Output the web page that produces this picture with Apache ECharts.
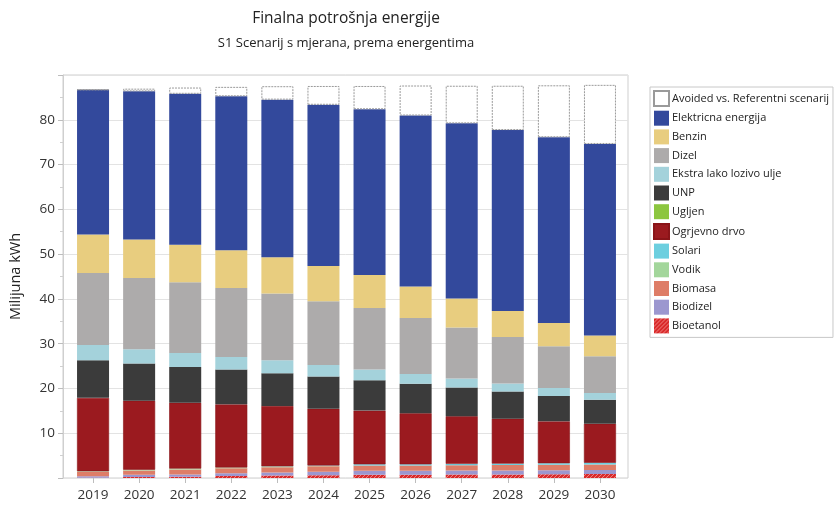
<!DOCTYPE html>
<html>
<head>
<meta charset="utf-8">
<script src="https://cdn.jsdelivr.net/npm/echarts@6/dist/echarts.min.js"></script>
<style>
  html, body { margin: 0; padding: 0; background: #fff; }
  #chart { width: 835px; height: 506px; }
</style>
</head>
<body>
<div id="chart"></div>
<script>
  // godine
  var years = ['2019', '2020', '2021', '2022', '2023', '2024', '2025', '2026', '2027', '2028', '2029', '2030'];

  // vrijednosti po energentu (Milijuna kWh)
  var bioetanol  = [0.05, 0.2, 0.3, 0.45, 0.55, 0.6, 0.7, 0.75, 0.8, 0.8, 0.85, 0.9];
  var biodizel   = [0.35, 0.5, 0.5, 0.6, 0.7, 0.8, 0.9, 0.85, 0.85, 0.9, 0.9, 0.9];
  var biomasa    = [1.0, 1.0, 1.1, 1.15, 1.15, 1.2, 1.2, 1.2, 1.2, 1.2, 1.2, 1.2];
  var vodik      = [0.1, 0.15, 0.2, 0.15, 0.15, 0.1, 0, 0, 0, 0, 0, 0];
  var solari     = [0, 0, 0, 0, 0.05, 0.1, 0.25, 0.25, 0.3, 0.3, 0.35, 0.4];
  var ogrjevno   = [16.4, 15.4, 14.7, 14.1, 13.5, 12.65, 12.0, 11.4, 10.65, 10.05, 9.35, 8.7];
  var ugljen     = [0, 0, 0, 0, 0, 0, 0, 0, 0, 0, 0, 0];
  var unp        = [8.4, 8.3, 8.0, 7.8, 7.3, 7.2, 6.8, 6.6, 6.4, 6.05, 5.65, 5.4];
  var ekstra     = [3.4, 3.2, 3.1, 2.8, 2.9, 2.6, 2.4, 2.2, 2.0, 1.8, 1.8, 1.5];
  var dizel      = [16.1, 15.9, 15.8, 15.4, 14.9, 14.2, 13.7, 12.5, 11.4, 10.4, 9.3, 8.2];
  var benzin     = [8.6, 8.6, 8.4, 8.4, 8.1, 7.9, 7.4, 7.0, 6.5, 5.8, 5.2, 4.6];
  var elektricna = [32.3, 33.1, 33.7, 34.4, 35.2, 36.0, 37.0, 38.2, 39.1, 40.4, 41.5, 42.8];
  var avoided    = [0, 0.6, 1.4, 2.1, 3.0, 4.2, 5.2, 6.7, 8.4, 9.9, 11.6, 13.2];

  var yMin = 0, yMax = 90, yStep = 10;

  // srafura za bioetanol
  function hatch() {
    var c = document.createElement('canvas');
    c.width = 4; c.height = 4;
    var g = c.getContext('2d');
    g.fillStyle = '#d92b2b';
    g.fillRect(0, 0, 4, 4);
    g.strokeStyle = '#f08080';
    g.lineWidth = 1;
    g.beginPath();
    g.moveTo(0, 4); g.lineTo(4, 0);
    g.stroke();
    return c;
  }

  function bar(name, data, color, extra) {
    var s = {
      name: name,
      type: 'bar',
      stack: 'ukupno',
      barWidth: 32,
      xAxisIndex: 1,
      yAxisIndex: 1,
      data: data,
      itemStyle: { color: color },
      emphasis: { disabled: true }
    };
    if (extra) s.itemStyle = Object.assign(s.itemStyle, extra);
    return s;
  }

  var series = [
    bar('Bioetanol', bioetanol, { image: hatch(), repeat: 'repeat' }),
    bar('Biodizel', biodizel, '#9c97cf'),
    bar('Biomasa', biomasa, '#de7d67'),
    bar('Vodik', vodik, '#a3d69b'),
    bar('Solari', solari, '#6ccfdf'),
    bar('Ogrjevno drvo', ogrjevno, '#9b1a1f', { borderColor: '#8a1418', borderWidth: 0.6 }),
    bar('Ugljen', ugljen, '#8cc63f'),
    bar('UNP', unp, '#3b3b3b'),
    bar('Ekstra lako lozivo ulje', ekstra, '#a4d2db'),
    bar('Dizel', dizel, '#adabab'),
    bar('Benzin', benzin, '#e8cd7f'),
    bar('Elektricna energija', elektricna, '#33499c'),
    bar('Avoided vs. Referentni scenarij', avoided, '#ffffff',
        { borderColor: '#9a9a9a', borderWidth: 1, borderType: [2, 1] })
  ];

  var legendNames = series.map(function (s) { return s.name; }).reverse();

  var chart = echarts.init(document.getElementById('chart'), null, { renderer: 'canvas' });
  chart.setOption({
    animation: false,
    textStyle: { fontFamily: 'Open Sans' },
    title: {
      text: 'Finalna potrošnja energije',
      subtext: 'S1 Scenarij s mjerana, prema energentima',
      left: 341,
      textAlign: 'center',
      top: 6,
      itemGap: 10,
      textStyle: { fontSize: 15.5, fontWeight: 'normal', color: '#222', fontFamily: 'Open Sans' },
      subtextStyle: { fontSize: 13, color: '#222', fontFamily: 'Open Sans' }
    },
    legend: {
      orient: 'vertical',
      left: 650,
      top: 87,
      data: legendNames,
      itemWidth: 15,
      itemHeight: 15,
      itemGap: 3.7,
      padding: [3, 4, 4, 3],
      borderColor: '#c8c8c8',
      borderWidth: 1,
      selectedMode: false,
      textStyle: { fontSize: 11, color: '#222', fontFamily: 'Open Sans', padding: [0, 0, 0, -2] },
      icon: 'rect'
    },
    grid: [
      // okvir, mreza i os y
      { left: 61, right: 207, top: 75, bottom: 28, show: true, borderColor: '#cfcfcf', borderWidth: 1 },
      // stupci
      { left: 70, right: 212, top: 75, bottom: 28 }
    ],
    xAxis: [
      { gridIndex: 0, type: 'category', data: years, show: false },
      {
        gridIndex: 1,
        type: 'category',
        data: years,
        axisLine: { show: false },
        axisTick: { show: true, alignWithLabel: true, length: 5, lineStyle: { color: '#bdbdbd' } },
        axisLabel: { fontSize: 13.5, color: '#333', margin: 10 }
      }
    ],
    yAxis: [
      {
        gridIndex: 0,
        type: 'value',
        min: yMin,
        max: yMax,
        interval: yStep,
        name: 'Milijuna kWh',
        nameLocation: 'middle',
        nameGap: 40,
        nameTextStyle: { fontSize: 14.5, color: '#222' },
        axisLine: { show: true, lineStyle: { color: '#cfcfcf' } },
        axisTick: { show: true, length: 5, lineStyle: { color: '#bdbdbd' } },
        minorTick: { show: true, splitNumber: 2, length: 3, lineStyle: { color: '#d0d0d0' } },
        axisLabel: {
          fontSize: 13.5, color: '#333', margin: 8,
          formatter: function (v) { return (v === yMin || v === yMax) ? '' : String(v); }
        },
        splitLine: { show: true, lineStyle: { color: '#e3e3e3' } }
      },
      { gridIndex: 1, type: 'value', min: yMin, max: yMax, interval: yStep, show: false, splitLine: { show: false } }
    ],
    series: series
  });
</script>
</body>
</html>
